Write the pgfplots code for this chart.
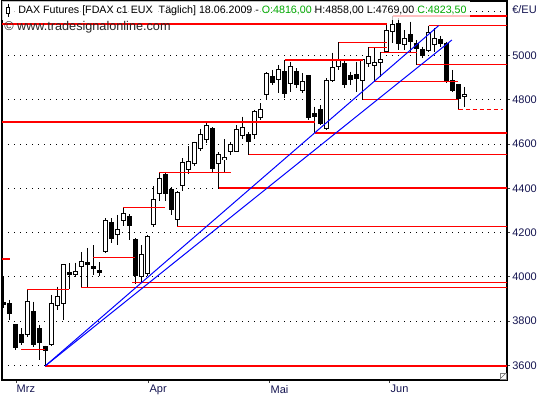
\documentclass[border=0pt]{standalone}
\usepackage{pgfplots}
\pgfplotsset{compat=1.18}
\usepackage{pgfplotstable}
\usepackage{fontspec}
\setmainfont{Liberation Sans}
\definecolor{lblue}{RGB}{20,20,80}
\definecolor{tgreen}{RGB}{0,170,0}

\pgfplotstableread{
i o h l c
0 3884 4004 3858 3877
1 3881 3896 3806 3833
2 3783 3788 3670 3681
3 3741 3768 3693 3705
4 3741 3944 3730 3891
5 3843 3888 3685 3693
6 3768 3783 3625 3703
7 3685 3690 3598 3666
8 3697 3919 3688 3881
9 3873 3956 3851 3911
10 3881 4058 3806 4054
11 4021 4062 3944 4012
12 4012 4064 4001 4024
13 4046 4113 3953 4069
14 4064 4131 3956 4057
15 4046 4144 4009 4039
16 4027 4067 4004 4021
17 4114 4265 4107 4253
18 4245 4265 4155 4175
19 4190 4280 4144 4212
20 4257 4315 4230 4288
21 4272 4282 4167 4230
22 4170 4175 3968 4006
23 4001 4144 3979 4099
24 4017 4190 4004 4182
25 4237 4411 4226 4351
26 4378 4472 4345 4446
27 4461 4470 4345 4378
28 4393 4404 4280 4306
29 4260 4387 4229 4382
30 4415 4536 4388 4518
31 4485 4591 4467 4521
32 4512 4611 4501 4605
33 4581 4668 4570 4644
34 4619 4697 4604 4686
35 4668 4677 4471 4491
36 4513 4563 4400 4555
37 4528 4622 4471 4540
38 4566 4611 4551 4596
39 4566 4686 4564 4667
40 4637 4724 4622 4676
41 4644 4653 4551 4611
42 4641 4754 4622 4746
43 4721 4784 4709 4757
44 4822 4924 4802 4917
45 4905 4935 4867 4877
46 4890 4957 4830 4935
47 4927 4980 4807 4830
48 4872 4972 4837 4950
49 4927 4942 4852 4867
50 4840 4920 4830 4882
51 4908 4912 4709 4721
52 4739 4769 4652 4724
53 4754 4777 4686 4694
54 4671 4897 4664 4886
55 4886 5013 4882 4947
56 4950 5060 4935 4980
57 4962 4980 4852 4867
58 4908 4927 4867 4890
59 4912 4972 4837 4897
60 4886 4983 4802 4980
61 4965 5037 4950 4995
62 4953 5033 4882 4970
63 4968 5015 4905 4984
64 5017 5146 5010 5115
65 5108 5179 5055 5138
66 5146 5168 5025 5055
67 5048 5115 5025 5078
68 5093 5153 5010 5063
69 5055 5070 4957 5033
70 5028 5040 4988 5002
71 5021 5135 5016 5102
72 5048 5123 5017 5078
73 5070 5088 5039 5052
74 5055 5063 4877 4882
75 4885 4935 4837 4844
76 4867 4870 4758 4807
77 4816 4858 4769 4823.5
}\candles

\begin{document}
\begin{tikzpicture}
\path[use as bounding box] (0,0) rectangle (412.5pt,300pt);
\begin{axis}[
  at={(1.5pt,15pt)}, anchor=south west,
  scale only axis, width=378.75pt, height=284.25pt,
  xmin=-0.22, xmax=84.1, ymin=3534.5, ymax=5246,
  axis line style={black, line width=1pt},
  xtick={2.12,24.32,44.52,64.56},
  xticklabels={Mrz,Apr,Mai,Jun},
  ytick={3600,3800,...,5000},
  yticklabels={3600,3800,4000,4200,4400,4600,4800,5000},
  extra y ticks={5200},
  extra y tick labels={},
  extra y tick style={grid=major, major tick length=0pt},
  ymajorgrids,
  grid style={black, line width=0.75pt, dash pattern=on 0.75pt off 3.75pt},
  xtick pos=left, ytick pos=right,
  tick align=outside, major tick length=2.25pt,
  tick style={black!75, line width=0.75pt},
  x tick label style={anchor=north west, inner sep=0pt, xshift=0.3pt, yshift=-1.5pt, font=\fontsize{8.25}{10}\selectfont, text=lblue},
  y tick label style={anchor=west, inner sep=0pt, xshift=1.5pt, font=\fontsize{8.25}{10}\selectfont, text=lblue},
]
% wicks
\addplot[draw=none, mark=none, forget plot,
  error bars/.cd, y dir=both, y explicit, error mark=none,
  error bar style={draw=black, solid, line width=0.75pt}]
  table[x=i, y=h, y error plus expr=0, y error minus expr=\thisrow{h}-\thisrow{l}] {\candles};
% bodies outline / black fill
\addplot[draw=none, mark=none, forget plot,
  error bars/.cd, y dir=both, y explicit, error mark=none,
  error bar style={draw=black, solid, line width=3.75pt}]
  table[x=i, y expr=(\thisrow{o}+\thisrow{c})/2, y error expr={abs(\thisrow{c}-\thisrow{o})/2+2.26}] {\candles};
% white interior for rising candles
\addplot[draw=none, mark=none, forget plot,
  error bars/.cd, y dir=both, y explicit, error mark=none,
  error bar style={draw=white, solid, line width=2.25pt}]
  table[x=i, y expr=(\thisrow{o}+\thisrow{c})/2, y error expr={(\thisrow{c}>\thisrow{o})*max(0,(\thisrow{c}-\thisrow{o})/2-2.26)}] {\candles};

% thick red levels
\addplot[red, line width=1.5pt] coordinates {(-1,5142) (64,5142)};
\addplot[red, line width=1.5pt] coordinates {(65,5178) (90,5178)};
\addplot[red, line width=1.5pt] coordinates {(47,4980) (60,4980)};
\addplot[red, line width=1.5pt] coordinates {(-1,4701) (52,4701)};
\addplot[red, line width=1.5pt] coordinates {(52,4651.5) (90,4651.5)};
\addplot[red, line width=1.5pt] coordinates {(36,4400) (90,4400)};
\addplot[red, line width=1.5pt] coordinates {(7,3598) (90,3598)};
\addplot[red, line width=1.5pt] coordinates {(-1,4081) (1.12,4081)};
% thin red levels
\addplot[red, line width=0.75pt] coordinates {(2.96,3672) (6.96,3672)};
\addplot[red, line width=0.75pt] coordinates {(4,3944) (11,3944)};
\addplot[red, line width=0.75pt] coordinates {(13,3953) (90,3953)};
\addplot[red, line width=0.75pt] coordinates {(21.5,3973) (90,3973)};
\addplot[red, line width=0.75pt] coordinates {(15,4088) (22,4088)};
\addplot[red, line width=0.75pt] coordinates {(20,4315) (27,4315)};
\addplot[red, line width=0.75pt] coordinates {(26,4472) (38,4472)};
\addplot[red, line width=0.75pt] coordinates {(29,4229) (90,4229)};
\addplot[red, line width=0.75pt] coordinates {(41,4551) (90,4551)};
\addplot[red, line width=0.75pt] coordinates {(56,5060) (64,5060)};
\addplot[red, line width=0.75pt] coordinates {(61,5037) (64,5037)};
\addplot[red, line width=0.75pt] coordinates {(63,5015) (69,5015)};
\addplot[red, line width=0.75pt] coordinates {(71,5134) (90,5134)};
\addplot[red, line width=0.75pt] coordinates {(69,4960) (90,4960)};
\addplot[red, line width=0.75pt] coordinates {(62,4884) (76,4884)};
\addplot[red, line width=0.75pt] coordinates {(60,4802) (68,4802)};
\addplot[red, line width=0.75pt] coordinates {(68,4799) (76,4799)};
\addplot[red, line width=0.75pt, dash pattern=on 3pt off 2.25pt] coordinates {(76,4757) (83.4,4757)};
% trend lines
\addplot[blue, line width=0.75pt] coordinates {(7,3598) (74.9,5070)};
\addplot[blue, line width=0.75pt] coordinates {(7,3598) (72.7,5135)};
\end{axis}

% title band
\fill[white, fill opacity=0.75] (1.5pt,299.25pt) rectangle (352.5pt,285pt);
\draw[black, line width=0.6pt] (6pt,297pt) -- (6pt,287.25pt);
\filldraw[draw=black, fill=white, line width=0.6pt] (4.6pt,294.5pt) rectangle (7.4pt,290pt);
\node[anchor=west, inner sep=0pt, font=\fontsize{8}{10}\selectfont] at (13.5pt,292.1pt)
  {DAX Futures [FDAX c1 EUX\ \ Täglich] 18.06.2009 - \textcolor{tgreen}{O:4816,00} H:4858,00 L:4769,00 \textcolor{tgreen}{C:4823,50}};
\node[anchor=west, inner sep=0pt, font=\fontsize{9.5}{11}\selectfont, text=black!85] at (3pt,279.75pt)
  {\textcopyright\ www.tradesignalonline.com};
\node[anchor=west, inner sep=0pt, font=\fontsize{8.25}{10}\selectfont, text=lblue] at (384pt,292.5pt) {€/EU};
% resize grip
\filldraw[draw=black!50, fill=white, line width=0.4pt] (375pt,20.25pt) rectangle (379.5pt,15.75pt);
\draw[black!60, line width=0.4pt] (375.8pt,16.5pt) -- (378.8pt,19.5pt);
\end{tikzpicture}
\end{document}
